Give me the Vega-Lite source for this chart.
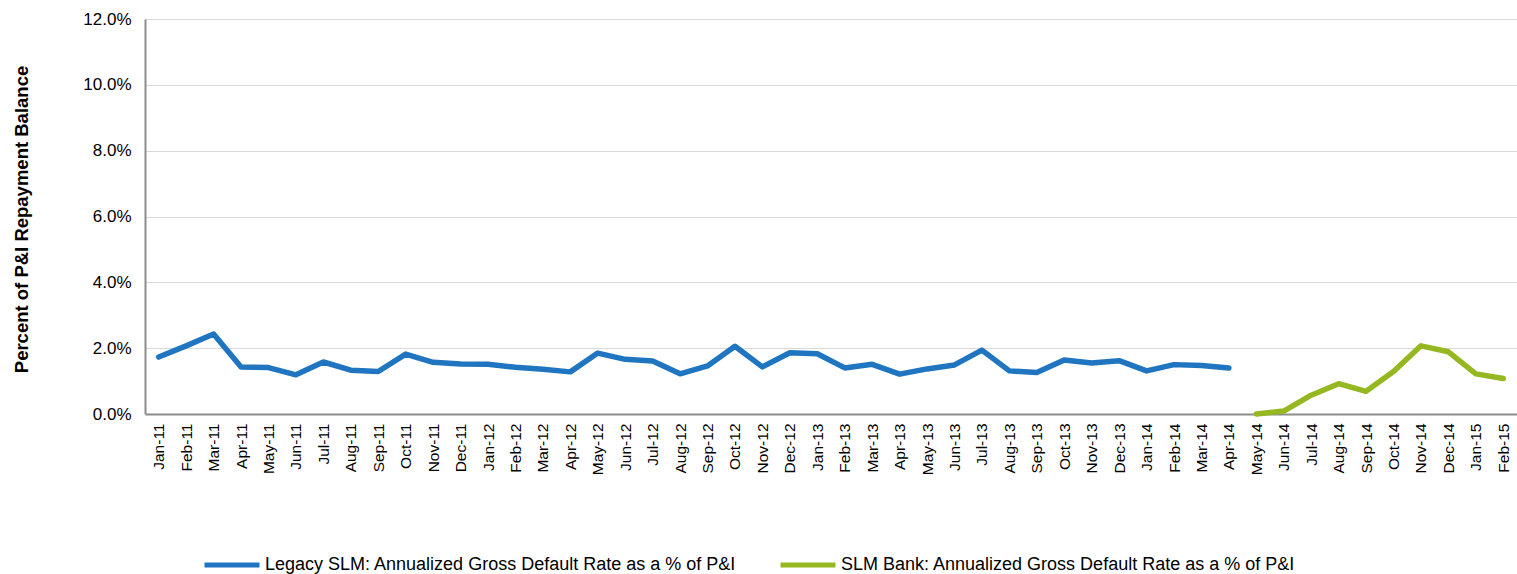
{
  "$schema": "https://vega.github.io/schema/vega-lite/v6.json",
  "width": 1372,
  "height": 395,
  "autosize": {"type": "none"},
  "padding": {"left": 145, "top": 19, "right": 0, "bottom": 160},
  "background": "white",
  "config": {"font": "Liberation Sans", "view": {"stroke": null}},
  "data": {
    "values": [
      {"month": "Jan-11", "series": "Legacy SLM: Annualized Gross Default Rate as a % of P&I", "value": 1.73},
      {"month": "Feb-11", "series": "Legacy SLM: Annualized Gross Default Rate as a % of P&I", "value": 2.07},
      {"month": "Mar-11", "series": "Legacy SLM: Annualized Gross Default Rate as a % of P&I", "value": 2.43},
      {"month": "Apr-11", "series": "Legacy SLM: Annualized Gross Default Rate as a % of P&I", "value": 1.43},
      {"month": "May-11", "series": "Legacy SLM: Annualized Gross Default Rate as a % of P&I", "value": 1.41},
      {"month": "Jun-11", "series": "Legacy SLM: Annualized Gross Default Rate as a % of P&I", "value": 1.19},
      {"month": "Jul-11", "series": "Legacy SLM: Annualized Gross Default Rate as a % of P&I", "value": 1.58},
      {"month": "Aug-11", "series": "Legacy SLM: Annualized Gross Default Rate as a % of P&I", "value": 1.33},
      {"month": "Sep-11", "series": "Legacy SLM: Annualized Gross Default Rate as a % of P&I", "value": 1.29},
      {"month": "Oct-11", "series": "Legacy SLM: Annualized Gross Default Rate as a % of P&I", "value": 1.82},
      {"month": "Nov-11", "series": "Legacy SLM: Annualized Gross Default Rate as a % of P&I", "value": 1.57},
      {"month": "Dec-11", "series": "Legacy SLM: Annualized Gross Default Rate as a % of P&I", "value": 1.52},
      {"month": "Jan-12", "series": "Legacy SLM: Annualized Gross Default Rate as a % of P&I", "value": 1.51},
      {"month": "Feb-12", "series": "Legacy SLM: Annualized Gross Default Rate as a % of P&I", "value": 1.42},
      {"month": "Mar-12", "series": "Legacy SLM: Annualized Gross Default Rate as a % of P&I", "value": 1.36},
      {"month": "Apr-12", "series": "Legacy SLM: Annualized Gross Default Rate as a % of P&I", "value": 1.28},
      {"month": "May-12", "series": "Legacy SLM: Annualized Gross Default Rate as a % of P&I", "value": 1.85},
      {"month": "Jun-12", "series": "Legacy SLM: Annualized Gross Default Rate as a % of P&I", "value": 1.66},
      {"month": "Jul-12", "series": "Legacy SLM: Annualized Gross Default Rate as a % of P&I", "value": 1.61},
      {"month": "Aug-12", "series": "Legacy SLM: Annualized Gross Default Rate as a % of P&I", "value": 1.22},
      {"month": "Sep-12", "series": "Legacy SLM: Annualized Gross Default Rate as a % of P&I", "value": 1.46},
      {"month": "Oct-12", "series": "Legacy SLM: Annualized Gross Default Rate as a % of P&I", "value": 2.06},
      {"month": "Nov-12", "series": "Legacy SLM: Annualized Gross Default Rate as a % of P&I", "value": 1.43},
      {"month": "Dec-12", "series": "Legacy SLM: Annualized Gross Default Rate as a % of P&I", "value": 1.86},
      {"month": "Jan-13", "series": "Legacy SLM: Annualized Gross Default Rate as a % of P&I", "value": 1.83},
      {"month": "Feb-13", "series": "Legacy SLM: Annualized Gross Default Rate as a % of P&I", "value": 1.40},
      {"month": "Mar-13", "series": "Legacy SLM: Annualized Gross Default Rate as a % of P&I", "value": 1.51},
      {"month": "Apr-13", "series": "Legacy SLM: Annualized Gross Default Rate as a % of P&I", "value": 1.21},
      {"month": "May-13", "series": "Legacy SLM: Annualized Gross Default Rate as a % of P&I", "value": 1.37},
      {"month": "Jun-13", "series": "Legacy SLM: Annualized Gross Default Rate as a % of P&I", "value": 1.49},
      {"month": "Jul-13", "series": "Legacy SLM: Annualized Gross Default Rate as a % of P&I", "value": 1.94},
      {"month": "Aug-13", "series": "Legacy SLM: Annualized Gross Default Rate as a % of P&I", "value": 1.31},
      {"month": "Sep-13", "series": "Legacy SLM: Annualized Gross Default Rate as a % of P&I", "value": 1.26},
      {"month": "Oct-13", "series": "Legacy SLM: Annualized Gross Default Rate as a % of P&I", "value": 1.64},
      {"month": "Nov-13", "series": "Legacy SLM: Annualized Gross Default Rate as a % of P&I", "value": 1.55},
      {"month": "Dec-13", "series": "Legacy SLM: Annualized Gross Default Rate as a % of P&I", "value": 1.62},
      {"month": "Jan-14", "series": "Legacy SLM: Annualized Gross Default Rate as a % of P&I", "value": 1.31},
      {"month": "Feb-14", "series": "Legacy SLM: Annualized Gross Default Rate as a % of P&I", "value": 1.50},
      {"month": "Mar-14", "series": "Legacy SLM: Annualized Gross Default Rate as a % of P&I", "value": 1.47},
      {"month": "Apr-14", "series": "Legacy SLM: Annualized Gross Default Rate as a % of P&I", "value": 1.40},
      {"month": "May-14", "series": "SLM Bank: Annualized Gross Default Rate as a % of P&I", "value": 0.0},
      {"month": "Jun-14", "series": "SLM Bank: Annualized Gross Default Rate as a % of P&I", "value": 0.09},
      {"month": "Jul-14", "series": "SLM Bank: Annualized Gross Default Rate as a % of P&I", "value": 0.57},
      {"month": "Aug-14", "series": "SLM Bank: Annualized Gross Default Rate as a % of P&I", "value": 0.92},
      {"month": "Sep-14", "series": "SLM Bank: Annualized Gross Default Rate as a % of P&I", "value": 0.69},
      {"month": "Oct-14", "series": "SLM Bank: Annualized Gross Default Rate as a % of P&I", "value": 1.29},
      {"month": "Nov-14", "series": "SLM Bank: Annualized Gross Default Rate as a % of P&I", "value": 2.07},
      {"month": "Dec-14", "series": "SLM Bank: Annualized Gross Default Rate as a % of P&I", "value": 1.89},
      {"month": "Jan-15", "series": "SLM Bank: Annualized Gross Default Rate as a % of P&I", "value": 1.22},
      {"month": "Feb-15", "series": "SLM Bank: Annualized Gross Default Rate as a % of P&I", "value": 1.08}
    ]
  },
  "mark": {"type": "line", "strokeWidth": 5.5, "strokeCap": "round", "strokeJoin": "round"},
  "encoding": {
    "x": {
      "field": "month",
      "type": "ordinal",
      "sort": null,
      "scale": {"padding": 0.5},
      "axis": {
        "title": null,
        "labelAngle": -90,
        "labelAlign": "right",
        "labelBaseline": "middle",
        "labelFontSize": 15.5,
        "labelColor": "#000000",
        "labelPadding": 9,
        "ticks": false,
        "grid": false,
        "domainColor": "#8c8c8c",
        "domainWidth": 2
      }
    },
    "y": {
      "field": "value",
      "type": "quantitative",
      "scale": {"domain": [0, 12], "nice": false},
      "axis": {
        "values": [0, 2, 4, 6, 8, 10, 12],
        "labelExpr": "format(datum.value, '.1f') + '%'",
        "labelFontSize": 17,
        "labelColor": "#000000",
        "labelPadding": 14,
        "ticks": false,
        "grid": true,
        "gridColor": "#d9d9d9",
        "gridWidth": 1,
        "domainColor": "#8c8c8c",
        "domainWidth": 2,
        "title": "Percent of P&I Repayment  Balance",
        "titleFontSize": 18.5,
        "titleFontWeight": "bold",
        "titleColor": "#000000",
        "titleX": -124,
        "titleY": 200,
        "titleAlign": "center",
        "titleBaseline": "middle"
      }
    },
    "color": {
      "field": "series",
      "type": "nominal",
      "scale": {
        "domain": ["Legacy SLM: Annualized Gross Default Rate as a % of P&I", "SLM Bank: Annualized Gross Default Rate as a % of P&I"],
        "range": ["#1f75c0", "#95b821"]
      },
      "legend": {
        "title": null,
        "orient": "none",
        "direction": "horizontal",
        "legendX": 57,
        "legendY": 516,
        "padding": 0,
        "symbolType": "stroke",
        "symbolSize": 3025,
        "symbolStrokeWidth": 5,
        "labelFontSize": 18,
        "labelColor": "#000000",
        "labelLimit": 0,
        "labelOffset": 3,
        "columnPadding": 33
      }
    }
  }
}
